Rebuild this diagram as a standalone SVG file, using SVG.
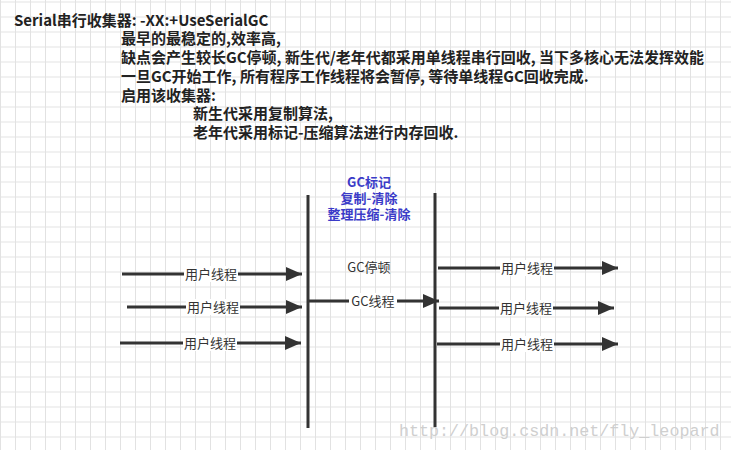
<svg xmlns="http://www.w3.org/2000/svg" width="731" height="450" viewBox="0 0 731 450">
<defs>
<pattern id="grid" patternUnits="userSpaceOnUse" x="0" y="1.5" width="15" height="15">
<path d="M0.5 0V15M0 0.5H15" stroke="#e2e2e2" stroke-width="1" fill="none"/>
</pattern>
<marker id="ah" markerUnits="userSpaceOnUse" markerWidth="16" markerHeight="14" refX="16" refY="7" orient="auto">
<path d="M0 0L16 7L0 14Z" fill="#333"/>
</marker>
<style>
.t{font-family:"Noto Sans CJK SC","Liberation Sans",sans-serif;font-weight:bold;font-size:15px;fill:#222}
.b{font-family:"Noto Sans CJK SC","Liberation Sans",sans-serif;font-weight:bold;font-size:13px;fill:#3b3bc8;text-anchor:middle}
.l{font-family:"Noto Sans CJK SC","Liberation Sans",sans-serif;font-size:13px;fill:#333;text-anchor:middle}
.lbg{fill:#fff}
.c{stroke:#333;stroke-width:3;fill:none}
.a{stroke:#333;stroke-width:3;fill:none;marker-end:url(#ah)}
.wm{font-family:"Liberation Mono",monospace;font-size:16.7px;fill:#cfcfcf}
</style>
</defs>
<rect width="731" height="450" fill="#fff"/>
<rect width="731" height="450" fill="url(#grid)"/>
<g id="header">
<text class="t" x="14" y="26">Serial串行收集器: -XX:+UseSerialGC</text>
<text class="t" x="121" y="44">最早的最稳定的,效率高,</text>
<text class="t" x="121" y="63">缺点会产生较长GC停顿, 新生代/老年代都采用单线程串行回收, 当下多核心无法发挥效能</text>
<text class="t" x="121" y="82">一旦GC开始工作, 所有程序工作线程将会暂停, 等待单线程GC回收完成.</text>
<text class="t" x="121" y="101">启用该收集器:</text>
<text class="t" x="193" y="119">新生代采用复制算法,</text>
<text class="t" x="193" y="138">老年代采用标记-压缩算法进行内存回收.</text>
</g>
<g id="lifelines">
<line class="c" x1="308" y1="195" x2="308" y2="428"/>
<line class="c" x1="435" y1="193" x2="435" y2="427"/>
</g>
<g id="gc-label">
<text class="b" x="369" y="187">GC标记</text>
<text class="b" x="369" y="203">复制-清除</text>
<text class="b" x="369" y="218.5">整理压缩-清除</text>
</g>
<g id="gc-pause">
<text class="l" x="369" y="272">GC停顿</text>
</g>
<g id="connectors">
<line class="a" x1="122" y1="274" x2="302" y2="274"/>
<line class="a" x1="127" y1="307" x2="302" y2="307"/>
<line class="a" x1="120" y1="343" x2="301" y2="343"/>
<line class="a" x1="309" y1="301" x2="439" y2="301"/>
<line class="a" x1="438" y1="268" x2="618" y2="268"/>
<line class="a" x1="439" y1="308" x2="614" y2="308"/>
<line class="a" x1="437" y1="344" x2="618" y2="344"/>
</g>
<g id="labels">
<rect class="lbg" x="184" y="266" width="54" height="16"/>
<text class="l" x="211" y="279">用户线程</text>
<rect class="lbg" x="186" y="299" width="54" height="16"/>
<text class="l" x="213" y="312">用户线程</text>
<rect class="lbg" x="183" y="335" width="54" height="16"/>
<text class="l" x="210" y="348">用户线程</text>
<rect class="lbg" x="349" y="293" width="48" height="16"/>
<text class="l" x="373" y="306">GC线程</text>
<rect class="lbg" x="500" y="260" width="54" height="16"/>
<text class="l" x="527" y="273">用户线程</text>
<rect class="lbg" x="499" y="300" width="54" height="16"/>
<text class="l" x="526" y="313">用户线程</text>
<rect class="lbg" x="500" y="336" width="54" height="16"/>
<text class="l" x="527" y="349">用户线程</text>
</g>
<text class="wm" x="399" y="436">http://blog.csdn.net/fly_leopard</text>
</svg>
